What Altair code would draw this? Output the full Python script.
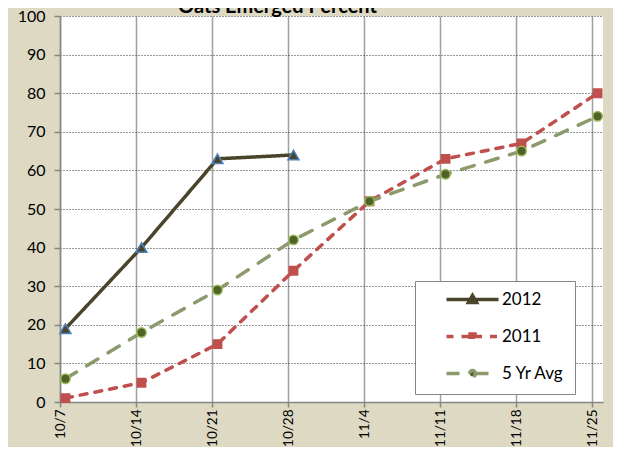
import altair as alt
import pandas as pd

# ---- data ----
dates = ["2012-10-07", "2012-10-14", "2012-10-21", "2012-10-28",
         "2012-11-04", "2012-11-11", "2012-11-18", "2012-11-25"]
series = ["2012", "2011", "5 Yr Avg"]
y2012 = [19, 40, 63, 64]
y2011 = [1, 5, 15, 34, 52, 63, 67, 80]
y_avg = [6, 18, 29, 42, 52, 59, 65, 74]
y_ticks = list(range(0, 101, 10))
axis_end = "2012-11-26"

# ---- styles ----
line_colors = ["#4a452a", "#c0504d", "#8c9a6e"]
line_dashes = [[1, 0], [7, 8], [13, 12]]
marker_shapes = ["triangle-up", "square", "circle"]
marker_fills = ["#4a452a", "#c0504d", "#4f6228"]
marker_strokes = ["#4f81bd", "#c0504d", "#9bbb59"]
marker_sizes = [121, 70, 90]
legend_paths = [
    "M-5.2,0H5.2M0,-0.8L0.8,0.6L-0.8,0.6Z",
    "M-5.2,0H-0.5M0.5,0H5.2M-0.5,-0.5H0.5V0.5H-0.5Z",
    "M-5.2,0H-0.6M0.6,0H5.2M-0.6,0A0.6,0.6 0 1,1 0.6,0A0.6,0.6 0 1,1 -0.6,0Z",
]

rows = []
for name, vals in zip(series, [y2012, y2011, y_avg]):
    for d, v in zip(dates, vals):
        rows.append({"series": name,
                     "date": pd.Timestamp(d) + pd.Timedelta(hours=12),
                     "value": v})
df = pd.DataFrame(rows)


def dt(s):
    t = pd.Timestamp(s)
    return alt.DateTime(year=t.year, month=t.month, date=t.day)


FONT = "Lato"

x_enc = alt.X(
    "date:T",
    scale=alt.Scale(domain=[dt(dates[0]), dt(axis_end)], nice=False),
    axis=alt.Axis(values=[dt(d) for d in dates], format="%-m/%-d",
                  labelAngle=-90, title=None, tickSize=5, labelPadding=2,
                  grid=True, gridColor="#a0a0a0", gridWidth=1.5,
                  labelOverlap=False, labelFlush=False, labelBound=False,
                  labelFontSize=13.5),
)
y_enc = alt.Y(
    "value:Q",
    scale=alt.Scale(domain=[0, 100], nice=False),
    axis=alt.Axis(values=y_ticks, title=None, tickSize=6, labelPadding=9,
                  grid=True, gridDash=[1, 2], gridColor="#303030",
                  gridWidth=1, labelFontSize=16),
)

layers = []
for i, name in enumerate(series):
    layers.append(
        alt.Chart(df).transform_filter(alt.datum.series == name).mark_line(
            color=line_colors[i], strokeDash=line_dashes[i],
            strokeWidth=3.5, strokeCap="round", strokeJoin="round",
        ).encode(x=x_enc, y=y_enc)
    )
for i, name in enumerate(series):
    layers.append(
        alt.Chart(df).transform_filter(alt.datum.series == name).mark_point(
            shape=marker_shapes[i], filled=True, fill=marker_fills[i],
            stroke=marker_strokes[i], strokeWidth=1.5,
            size=marker_sizes[i], opacity=1,
        ).encode(x=x_enc, y=y_enc)
    )

leg = alt.Legend(
    title=None, orient="none", legendX=355, legendY=265, padding=10,
    strokeColor="#868686", fillColor="white",
    labelFont=FONT, labelFontSize=17, labelColor="black", labelLimit=300,
    symbolSize=100, symbolStrokeWidth=3.5, symbolOffset=39,
    labelOffset=21, rowPadding=17,
    labelExpr="datum.label + '         '",
)

legend_layer = alt.Chart(df).transform_filter("false").mark_point(
    filled=False, size=100, strokeWidth=3.5, opacity=1
).encode(
    color=alt.Color("series:N", scale=alt.Scale(domain=series, range=line_colors), legend=leg),
    fill=alt.Fill("series:N", scale=alt.Scale(domain=series, range=marker_fills), legend=leg),
    shape=alt.Shape("series:N", scale=alt.Scale(domain=series, range=legend_paths), legend=leg),
    strokeDash=alt.StrokeDash("series:N", scale=alt.Scale(domain=series, range=line_dashes), legend=leg),
)
layers.append(legend_layer)

chart = alt.layer(*layers).properties(
    width=543, height=386,
    title=alt.Title("Oats Emerged Percent", font=FONT, fontSize=20,
                    fontWeight="bold", color="black", anchor="middle",
                    dx=-54, dy=20, offset=-5, baseline="alphabetic"),
    autosize=alt.AutoSizeParams(type="none"),
    padding={"left": 52, "top": 8, "right": 10, "bottom": 45},
    view=alt.ViewBackground(fill="white", strokeWidth=0),
).configure(
    background="#ddd9c3",
).configure_view(
    fill="white", strokeWidth=0,
).configure_axis(
    labelFont=FONT, labelColor="black", domainColor="#868686",
    tickColor="#868686", domainWidth=1.5, tickWidth=1.5,
)

chart.save("out.html", embed_options={"renderer": "svg", "actions": False})
